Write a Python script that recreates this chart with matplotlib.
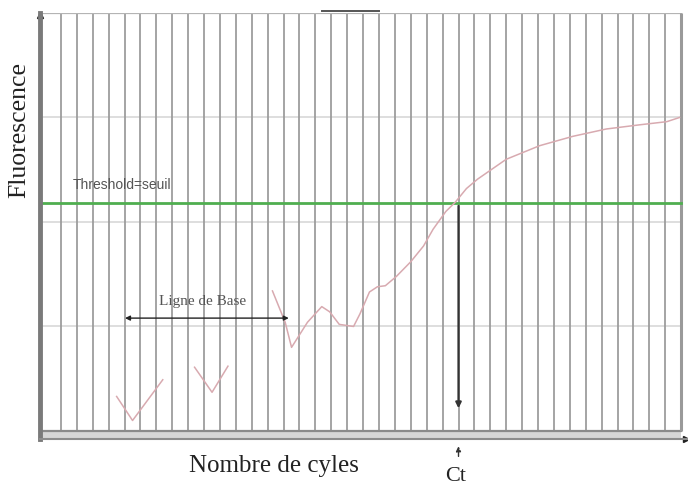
import matplotlib
matplotlib.use("Agg")
import matplotlib.pyplot as plt

# ---- data (cycles on x, fluorescence units on y) -------------------------
grid_cycles = list(range(1, 40))
frame_cycle = 40
hgrid_levels = [1, 2, 3]
top_level = 4

# baseline noise, three separate pieces of the amplification curve
noise1_x = [4.5, 5.5, 7.4]
noise1_y = [0.33, 0.10, 0.49]
noise2_x = [9.4, 10.5, 11.5]
noise2_y = [0.61, 0.37, 0.62]
curve_x = [14.3, 15.1, 15.5, 16.5, 17.4, 17.9, 18.5, 19.4, 19.8, 20.4, 20.9,
           21.4, 22.1, 23.0, 23.8, 24.4, 25.2, 25.8, 26.5, 27.2, 29.0, 31.1,
           33.2, 35.3, 37.4, 39.1, 39.9]
curve_y = [1.34, 1.04, 0.80, 1.04, 1.19, 1.14, 1.02, 1.00, 1.12, 1.33, 1.38,
           1.39, 1.48, 1.62, 1.77, 1.93, 2.10, 2.19, 2.32, 2.41, 2.60, 2.73,
           2.82, 2.89, 2.93, 2.96, 3.00]

threshold = 2.18
ct = 26
baseline_span = (4.85, 15.5)
baseline_level = 1.08

xlabel = "Nombre de cyles"
ylabel = "Fluorescence"
threshold_label = "Threshold=seuil"
baseline_label = "Ligne de Base"
ct_label = "Ct"

XLIM = (-0.32, 40.37)
YLIM = (-0.077, 4.0)

# ---- figure --------------------------------------------------------------
fig = plt.figure(figsize=(6.88, 4.85), dpi=100)
ax = fig.add_axes([40 / 688, 45 / 485, 647 / 688, 426 / 485])
ax.set_xlim(*XLIM)
ax.set_ylim(*YLIM)
ax.set_xticks([])
ax.set_yticks([])
for side in ("top", "right"):
    ax.spines[side].set_visible(False)
ax.spines["left"].set_color("#7a7a7a")
ax.spines["left"].set_linewidth(3.5)
ax.spines["bottom"].set_color("#8c8c8c")
ax.spines["bottom"].set_linewidth(1.5)

# grid / frame
ax.axhspan(YLIM[0], 0, xmin=0, xmax=(frame_cycle - XLIM[0]) / (XLIM[1] - XLIM[0]),
           color="#d6d6d6", lw=0)
for lv in hgrid_levels:
    ax.plot([XLIM[0], frame_cycle], [lv, lv], color="#d8d8d8", lw=1.2)
ax.vlines(grid_cycles, 0, top_level, color="#999999", lw=1.25)
ax.plot([XLIM[0], frame_cycle], [top_level, top_level], color="#b4b4b4", lw=1.6)
ax.plot([XLIM[0], frame_cycle], [0, 0], color="#8a8a8a", lw=1.6)
ax.vlines(frame_cycle, 0, top_level, color="#9a9a9a", lw=2.2)
ax.plot([17.4, 21.0], [4.02, 4.02], color="#555555", lw=1.4, clip_on=False)

# axis arrow heads
ax.plot(XLIM[0], 3.98, marker="^", color="#222222", ms=5, clip_on=False)
ax.plot(XLIM[1] - 0.05, YLIM[0], marker=">", color="#222222", ms=5, clip_on=False)

# threshold
ax.plot([XLIM[0], frame_cycle], [threshold, threshold], color="#4fae4f", lw=2)
ax.text(1.75, threshold + 0.18, threshold_label, fontsize=10, color="#555555",
        family="Liberation Sans", va="center")

# amplification curve
for xs, ys in ((noise1_x, noise1_y), (noise2_x, noise2_y), (curve_x, curve_y)):
    ax.plot(xs, ys, color="#d8aab0", lw=1.1)

# baseline arrow
ax.annotate("", xy=(baseline_span[0], baseline_level),
            xytext=(baseline_span[1], baseline_level),
            arrowprops=dict(arrowstyle="<|-|>", color="#222222", lw=1,
                            mutation_scale=7))
ax.text(9.9, baseline_level + 0.17, baseline_label,
        fontsize=11, color="#555555", family="Liberation Serif",
        ha="center", va="center")

# Ct arrows
ax.annotate("", xy=(ct, 0.19), xytext=(ct, threshold),
            arrowprops=dict(arrowstyle="-|>", color="#333333", lw=1.6,
                            mutation_scale=8))
ax.annotate("", xy=(ct, -0.12), xytext=(ct, -0.27),
            arrowprops=dict(arrowstyle="-|>", color="#333333", lw=1,
                            linestyle="--", mutation_scale=7),
            annotation_clip=False)

# labels
fig.text(456 / 688, 1 - 481 / 485, ct_label, fontsize=16,
         family="Liberation Serif", ha="center", va="baseline", color="#222222")
fig.text(274 / 688, 1 - 466 / 485, xlabel, fontsize=18,
         family="Liberation Serif", ha="center", va="center", color="#222222")
fig.text(19 / 688, 1 - 130 / 485, ylabel, fontsize=18.5, rotation=90,
         family="Liberation Serif", ha="center", va="center", color="#222222")

fig.savefig("out.png", dpi=100)
